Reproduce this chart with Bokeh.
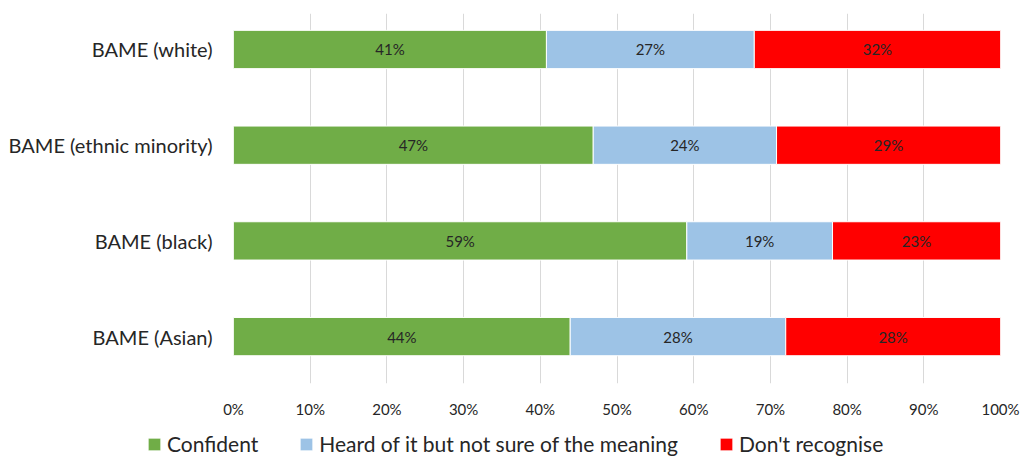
from bokeh.plotting import figure
from bokeh.layouts import column
from bokeh.models import ColumnDataSource, Legend, LegendItem, FixedTicker, PrintfTickFormatter
from bokeh.core.properties import value
from bokeh.embed import file_html
from bokeh.resources import INLINE

categories = ["BAME (Asian)", "BAME (black)", "BAME (ethnic minority)", "BAME (white)"]
confident = [43.9, 59.1, 46.9, 40.8]
heard = [28.1, 19.0, 23.9, 27.1]
dont = [28.0, 21.9, 29.2, 32.1]
confident_labels = ["44%", "59%", "47%", "41%"]
heard_labels = ["28%", "19%", "24%", "27%"]
dont_labels = ["28%", "23%", "29%", "32%"]
series_names = ["Confident", "Heard of it but not sure of the meaning", "Don't recognise"]
colors = ["#70AD47", "#9DC3E6", "#FF0000"]
x_ticks = [0, 10, 20, 30, 40, 50, 60, 70, 80, 90, 100]

FONT = "Lato"
TEXT = "#262626"

ypos = list(range(len(categories)))
left1 = [0] * len(categories)
right1 = [a for a in confident]
left2 = right1
right2 = [a + b for a, b in zip(confident, heard)]
left3 = right2
right3 = [a + b + c for a, b, c in zip(confident, heard, dont)]

p = figure(width=1021, height=424, output_backend="svg", toolbar_location=None,
           x_range=(0, 100), y_range=(-0.49, 3.376),
           min_border_left=233, min_border_right=21, min_border_top=13, min_border_bottom=41)
p.outline_line_color = None
p.background_fill_color = "white"
p.border_fill_color = "white"

for lefts, rights, col, labels in [(left1, right1, colors[0], confident_labels),
                                    (left2, right2, colors[1], heard_labels),
                                    (left3, right3, colors[2], dont_labels)]:
    src = ColumnDataSource(dict(y=ypos, left=lefts, right=rights,
                                mid=[(l + r) / 2 for l, r in zip(lefts, rights)], lab=labels))
    p.hbar(y="y", left="left", right="right", height=0.4, source=src,
           fill_color=col, line_color="white", line_width=1)
    p.text(x="mid", y="y", text="lab", source=src, text_align="center", text_baseline="middle",
           text_font=value(FONT), text_font_size="15px", text_color=TEXT)

p.xaxis.ticker = FixedTicker(ticks=x_ticks)
p.xaxis.formatter = PrintfTickFormatter(format="%d%%")
p.xaxis.axis_line_color = None
p.xaxis.major_tick_line_color = None
p.xaxis.minor_tick_line_color = None
p.xaxis.major_label_standoff = 10
p.xaxis.major_label_text_font = FONT
p.xaxis.major_label_text_font_size = "15px"
p.xaxis.major_label_text_color = TEXT

p.yaxis.ticker = FixedTicker(ticks=ypos)
p.yaxis.major_label_overrides = {i: c for i, c in enumerate(categories)}
p.yaxis.axis_line_color = None
p.yaxis.major_tick_line_color = None
p.yaxis.minor_tick_line_color = None
p.yaxis.major_label_standoff = 15
p.yaxis.major_label_text_font = FONT
p.yaxis.major_label_text_font_size = "20px"
p.yaxis.major_label_text_color = TEXT

p.xgrid.grid_line_color = "#D9D9D9"
p.xgrid.grid_line_width = 1
p.ygrid.grid_line_color = None

# legend strip (separate small figure holding only the legend)
lp = figure(width=1021, height=33, output_backend="svg", toolbar_location=None,
            x_axis_type=None, y_axis_type=None, x_range=(0, 1), y_range=(0, 1),
            min_border=0)
lp.frame_align = False
lp.outline_line_color = None
lp.grid.grid_line_color = None
lp.background_fill_color = "white"
lp.border_fill_color = "white"
items = []
for name, col in zip(series_names, colors):
    proxy = ColumnDataSource(dict(y=[0], left=[0], right=[0]))
    r = lp.hbar(y="y", left="left", right="right", height=0, source=proxy,
                fill_color=col, line_color="white", line_width=1)
    items.append(LegendItem(label=name, renderers=[r]))
legend = Legend(items=items, orientation="horizontal", location=(146, 1),
                padding=0, margin=0, spacing=40, label_standoff=5,
                glyph_width=16, glyph_height=16, label_height=16,
                border_line_color=None, background_fill_alpha=0,
                label_text_font=FONT, label_text_font_size="21px", label_text_color=TEXT)
lp.add_layout(legend, "center")

open("out.html", "w").write(file_html(column(p, lp, spacing=0), INLINE))
